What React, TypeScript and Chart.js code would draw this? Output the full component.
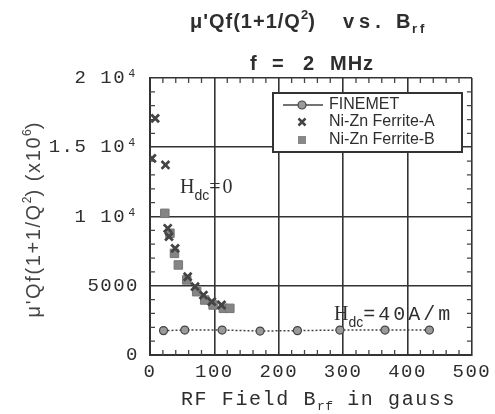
import React, { useEffect, useRef } from "react";
import { Chart, registerables } from "chart.js";

Chart.register(...registerables);

// ---- data ----
const seriesNames = ["FINEMET", "Ni-Zn Ferrite-A", "Ni-Zn Ferrite-B"];
const finemetX = [21, 54, 112, 171, 229, 295, 365, 434];
const finemetY = [1760, 1800, 1800, 1730, 1760, 1800, 1800, 1800];
const ferriteAX = [8, 3, 24, 27.5, 29.5, 39, 58.5, 70, 83, 96, 111];
const ferriteAY = [17090, 14200, 13720, 9150, 8540, 7700, 5650, 4930, 4330, 3850, 3610];
const ferriteBX = [23, 31, 38, 44, 57, 72.5, 85, 98, 114, 124];
const ferriteBY = [10230, 8790, 7340, 6500, 5420, 4570, 3970, 3610, 3370, 3370];
const xMin = 0, xMax = 500, xStep = 100, xMinorStep = 20;
const yMin = 0, yMax = 20000, yStep = 5000, yMinorStep = 1000;
const yTickValues = [0, 5000, 10000, 15000, 20000];
const yTickLabels = ["0", "5000", "1 10⁴", "1.5 10⁴", "2 10⁴"];

type Run = { t: string; f: string; dy?: number; ls?: number; x?: number };

function runsWidth(ctx: CanvasRenderingContext2D, runs: Run[]) {
  let w = 0;
  for (const r of runs) {
    ctx.font = r.f;
    (ctx as any).letterSpacing = (r.ls || 0) + "px";
    w += ctx.measureText(r.t).width;
  }
  return w;
}
function drawRuns(ctx: CanvasRenderingContext2D, x: number, y: number, runs: Run[], align: "left" | "center" = "left") {
  let cx = align === "center" ? x - runsWidth(ctx, runs) / 2 : x;
  ctx.textAlign = "left";
  ctx.textBaseline = "alphabetic";
  for (const r of runs) {
    if (r.x !== undefined) cx = r.x;
    ctx.font = r.f;
    (ctx as any).letterSpacing = (r.ls || 0) + "px";
    ctx.fillText(r.t, cx, y + (r.dy || 0));
    cx += ctx.measureText(r.t).width;
  }
  (ctx as any).letterSpacing = "0px";
}

const INK = "#2e2e2e";

const decor = {
  id: "decor",
  beforeDraw(chart: any) {
    (chart.ctx as any).letterSpacing = "1.5px";
  },
  beforeDatasetsDraw(chart: any) {
    const ctx: CanvasRenderingContext2D = chart.ctx;
    (ctx as any).letterSpacing = "0px";
    const { left, right, top, bottom } = chart.chartArea;
    const xs = chart.scales.x, ys = chart.scales.y;
    ctx.save();
    ctx.strokeStyle = "#444";
    ctx.lineWidth = 1.3;
    ctx.beginPath();
    for (let v = xMin + xMinorStep; v < xMax; v += xMinorStep) {
      if (v % xStep === 0) continue;
      const px = xs.getPixelForValue(v);
      ctx.moveTo(px, bottom); ctx.lineTo(px, bottom - 5);
      ctx.moveTo(px, top); ctx.lineTo(px, top + 5);
    }
    for (let v = yMin + yMinorStep; v < yMax; v += yMinorStep) {
      if (v % yStep === 0) continue;
      const py = ys.getPixelForValue(v);
      ctx.moveTo(left, py); ctx.lineTo(left + 5, py);
      ctx.moveTo(right, py); ctx.lineTo(right - 5, py);
    }
    ctx.stroke();
    ctx.restore();
  },
  afterDraw(chart: any) {
    const ctx: CanvasRenderingContext2D = chart.ctx;
    ctx.save();
    ctx.fillStyle = INK;
    // titles
    const b20 = "bold 20px 'Liberation Sans', Arial, sans-serif";
    const b13 = "bold 13px 'Liberation Sans', Arial, sans-serif";
    drawRuns(ctx, 190, 28, [
      { t: "μ'Qf(1+1/Q", f: b20, ls: 1 },
      { t: "2", f: b13, dy: -9 },
      { t: ")", f: b20, ls: 1 },
      { t: "vs.", f: b20, ls: 5, x: 343 },
      { t: "B", f: b20, x: 396 },
      { t: "rf", f: b13, dy: 5, ls: 3, x: 412 },
    ]);
    drawRuns(ctx, 250, 70, [
      { t: "f", f: b20 },
      { t: "=", f: b20, x: 272 },
      { t: "2", f: b20, x: 303 },
      { t: "MHz", f: b20, x: 330, ls: 1 },
    ]);

    // y axis title
    ctx.save();
    ctx.translate(33, 220);
    ctx.rotate(-Math.PI / 2);
    ctx.fillStyle = "#444";
    const r20 = "20px 'Liberation Sans', Arial, sans-serif";
    const r12 = "12px 'Liberation Sans', Arial, sans-serif";
    drawRuns(ctx, 0, 7, [
      { t: "μ'Qf(1+1/Q", f: r20, ls: 1.6 },
      { t: "2", f: r12, dy: -9 },
      { t: ") (x10", f: r20, ls: 1.6 },
      { t: "6", f: r12, dy: -9 },
      { t: ")", f: r20 },
    ], "center");
    ctx.restore();

    // x axis title
    const m20 = "20px 'Liberation Mono', 'Courier New', monospace";
    const m13 = "13px 'Liberation Mono', 'Courier New', monospace";
    drawRuns(ctx, 181, 405, [
      { t: "RF Field B", f: m20, ls: 1.6 },
      { t: "rf", f: m13, dy: 5, ls: 0.5 },
      { t: " in gauss", f: m20, ls: 1.6 },
    ]);

    // annotations
    const s20 = "20px 'Liberation Serif', 'Times New Roman', serif";
    const d14 = "14px 'Liberation Sans', Arial, sans-serif";
    drawRuns(ctx, 180, 193, [
      { t: "H", f: s20 },
      { t: "dc", f: d14, dy: 7 },
      { t: "=0", f: s20, ls: 2 },
    ]);
    drawRuns(ctx, 334, 320, [
      { t: "H", f: s20 },
      { t: "dc", f: d14, dy: 7 },
      { t: "=40A/m", f: m20, ls: 3 },
    ]);

    // legend box
    const lx = 273, ly = 93, lw = 189, lh = 59;
    ctx.fillStyle = "#ffffff";
    ctx.fillRect(lx, ly, lw, lh);
    ctx.strokeStyle = "#333";
    ctx.lineWidth = 2;
    ctx.strokeRect(lx, ly, lw, lh);
    const sx = 302;
    const rows = [105, 122, 140];
    // FINEMET sample
    ctx.strokeStyle = "#444";
    ctx.lineWidth = 1.5;
    ctx.beginPath(); ctx.moveTo(283, rows[0]); ctx.lineTo(323, rows[0]); ctx.stroke();
    ctx.fillStyle = "#9a9a9a";
    ctx.beginPath(); ctx.arc(sx, rows[0], 4, 0, Math.PI * 2); ctx.fill();
    ctx.lineWidth = 1.2; ctx.stroke();
    // cross
    ctx.strokeStyle = "#444"; ctx.lineWidth = 2.5;
    ctx.beginPath();
    ctx.moveTo(sx - 3.5, rows[1] - 3.5); ctx.lineTo(sx + 3.5, rows[1] + 3.5);
    ctx.moveTo(sx + 3.5, rows[1] - 3.5); ctx.lineTo(sx - 3.5, rows[1] + 3.5);
    ctx.stroke();
    // square
    ctx.fillStyle = "#888";
    ctx.fillRect(sx - 4, rows[2] - 4, 8, 8);
    ctx.fillStyle = INK;
    const l16 = "16px 'Liberation Sans', Arial, sans-serif";
    seriesNames.forEach((n, i) => {
      ctx.font = l16;
      ctx.textBaseline = "middle";
      ctx.textAlign = "left";
      ctx.fillText(n, 329, rows[i]);
    });
    ctx.restore();
  },
};

export default function App() {
  const ref = useRef<HTMLCanvasElement | null>(null);
  useEffect(() => {
    document.body.style.margin = "0";
    const canvas = ref.current;
    if (!canvas) return;
    const tickFont = { family: "'Liberation Mono', 'Courier New', monospace", size: 19 };
    const chart = new Chart(canvas, {
      type: "scatter",
      data: {
        datasets: [
          {
            label: seriesNames[0],
            data: finemetX.map((x, i) => ({ x, y: finemetY[i] })),
            showLine: true,
            borderColor: "#444",
            borderWidth: 1.5,
            borderDash: [2, 2],
            pointStyle: "circle",
            pointRadius: 4,
            pointBackgroundColor: "#9a9a9a",
            pointBorderColor: "#444",
            pointBorderWidth: 1.2,
          },
          {
            label: seriesNames[1],
            data: ferriteAX.map((x, i) => ({ x, y: ferriteAY[i] })),
            showLine: false,
            pointStyle: "crossRot",
            pointRadius: 5.5,
            pointBorderColor: "#444",
            pointBorderWidth: 2.8,
            borderColor: "#444",
          },
          {
            label: seriesNames[2],
            data: ferriteBX.map((x, i) => ({ x, y: ferriteBY[i] })),
            showLine: false,
            pointStyle: "rect",
            pointRadius: 6,
            pointBackgroundColor: "#858585",
            pointBorderColor: "#777",
            pointBorderWidth: 1,
          },
        ],
      },
      options: {
        animation: false,
        responsive: false,
        events: [],
        layout: { padding: { top: 78, right: 23, left: 0, bottom: 0 } },
        plugins: { legend: { display: false }, tooltip: { enabled: false }, title: { display: false } },
        scales: {
          x: {
            type: "linear",
            min: xMin,
            max: xMax,
            afterFit: (s: any) => { s.height = 59; },
            ticks: { stepSize: xStep, color: INK, font: tickFont, padding: 6, maxRotation: 0 },
            grid: { color: "#333", lineWidth: 1.6, drawTicks: false },
            border: { color: "#333", width: 2 },
          },
          y: {
            type: "linear",
            min: yMin,
            max: yMax,
            afterFit: (s: any) => { s.width = 150; },
            afterBuildTicks: (s: any) => { s.ticks = yTickValues.map((v) => ({ value: v })); },
            ticks: {
              color: INK,
              font: tickFont,
              padding: 11,
              callback: (v: any) => {
                const i = yTickValues.indexOf(Number(v));
                return i >= 0 ? yTickLabels[i] : "";
              },
            },
            grid: { color: "#333", lineWidth: 1.6, drawTicks: false },
            border: { color: "#333", width: 2 },
          },
        },
      },
      plugins: [decor],
    } as any);
    return () => chart.destroy();
  }, []);
  return (
    <div style={{ position: "fixed", left: 0, top: 0, width: 495, height: 414, background: "#fff" }}>
      <canvas ref={ref} width={495} height={414} style={{ display: "block", width: 495, height: 414 }} />
    </div>
  );
}
